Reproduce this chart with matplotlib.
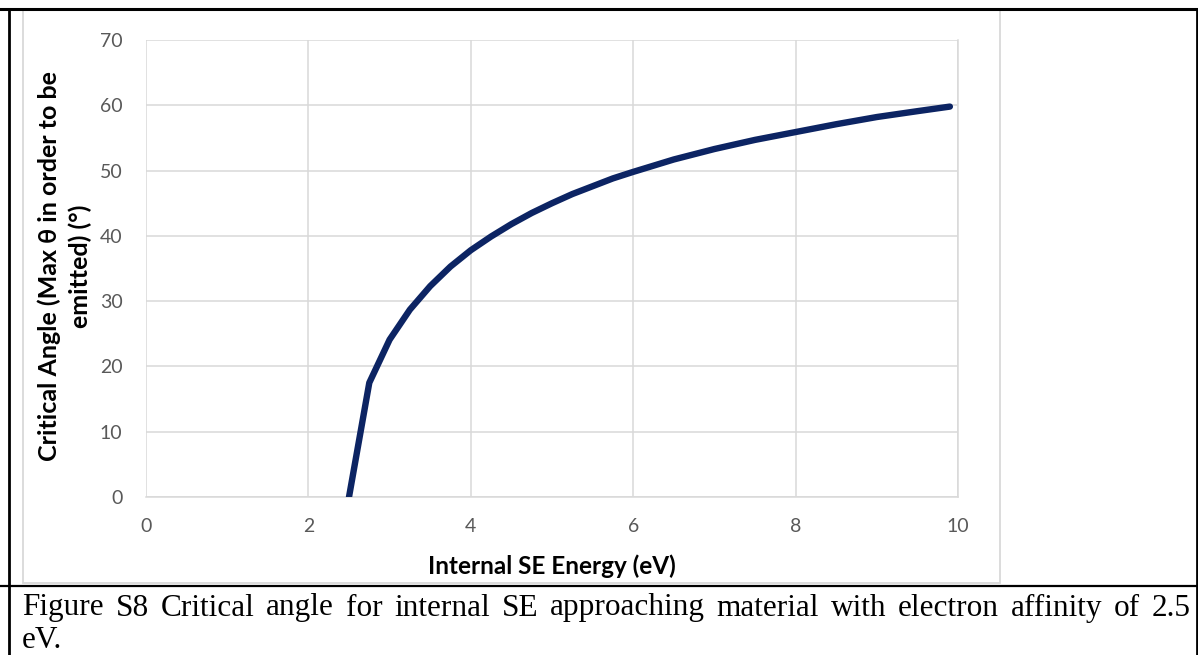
import numpy as np
import matplotlib
matplotlib.use("Agg")
import matplotlib.pyplot as plt
from matplotlib.lines import Line2D
from matplotlib.patches import Rectangle

plt.rcParams["font.family"] = ["Lato", "DejaVu Sans"]

# values
energy = [2.5, 2.75, 3.0, 3.25, 3.5, 3.75, 4.0, 4.25, 4.5, 4.75, 5.0, 5.25, 5.5,
          5.75, 6.0, 6.5, 7.0, 7.5, 8.0, 8.5, 9.0, 9.5, 9.9]
angle = [0.0, 17.5, 24.1, 28.7, 32.3, 35.3, 37.8, 39.9, 41.8, 43.5, 45.0, 46.4, 47.6,
         48.8, 49.8, 51.7, 53.3, 54.7, 55.9, 57.1, 58.2, 59.1, 59.8]
x_ticks = [0, 2, 4, 6, 8, 10]
y_ticks = [0, 10, 20, 30, 40, 50, 60, 70]
caption_1 = "Figure S8 Critical angle for internal SE approaching material with electron affinity of 2.5"
caption_2 = "eV."

W, H = 1198, 655
fig = plt.figure(figsize=(W / 100, H / 100), dpi=100)

def fx(px):
    return px / W

def fy(py):
    return 1 - py / H

# chart frame (light grey) and document borders (black)
fig.patches.append(Rectangle((fx(23), fy(583)), fx(1000) - fx(23), fy(10) - fy(583),
                             transform=fig.transFigure, fill=False,
                             edgecolor="#d9d9d9", linewidth=1.3))
for xs, ys, lw in [([0, W], [9, 9], 2.2), ([9, 9], [9, H], 2.0),
                   ([0, W], [586, 586], 1.6), ([W - 1, W - 1], [9, H], 2.0)]:
    fig.add_artist(Line2D([fx(v) for v in xs], [fy(v) for v in ys],
                          transform=fig.transFigure, color="black", linewidth=lw))

ax = fig.add_axes([fx(146), fy(497), fx(958) - fx(146), fy(40) - fy(497)])
ax.plot(energy, angle, color="#0c2463", linewidth=4.6, solid_capstyle="round",
        solid_joinstyle="round", zorder=3)

ax.set_xlim(0, 10)
ax.set_ylim(0, 70)
ax.set_xticks(x_ticks)
ax.set_yticks(y_ticks)
ax.grid(True, color="#d9d9d9", linewidth=1.1)
ax.set_axisbelow(True)
for s in ["top", "left"]:
    ax.spines[s].set_visible(False)
for s in ["bottom", "right"]:
    ax.spines[s].set_color("#d9d9d9")
    ax.spines[s].set_linewidth(1.1)
ax.tick_params(length=0, labelsize=14, labelcolor="#595959")
ax.tick_params(axis="y", pad=17)
ax.tick_params(axis="x", pad=15)

fig.text(fx(552), fy(566), "Internal SE Energy (eV)", ha="center", va="center",
         fontsize=17.5, fontweight="bold", color="black")
fig.text(fx(65), fy(266), "Critical Angle (Max θ in order to be\nemitted) (°)",
         ha="center", va="center", rotation=90, fontsize=18,
         fontweight="bold", color="black", linespacing=1.4)

# caption, first line justified between the borders
cap = dict(fontsize=22.5, family=["Liberation Serif", "DejaVu Serif"], color="black",
           ha="left", va="center")
renderer = fig.canvas.get_renderer()
words = caption_1.split()
texts = [fig.text(0, fy(608), w, **cap) for w in words]
widths = [t.get_window_extent(renderer).width for t in texts]
x0, x1 = 22, 1191
gap = (x1 - x0 - sum(widths)) / (len(words) - 1)
xpos = x0
for t, w in zip(texts, widths):
    t.set_x(fx(xpos))
    xpos += w + gap
fig.text(fx(22), fy(640), caption_2, **cap)

fig.savefig("out.png", dpi=100)
